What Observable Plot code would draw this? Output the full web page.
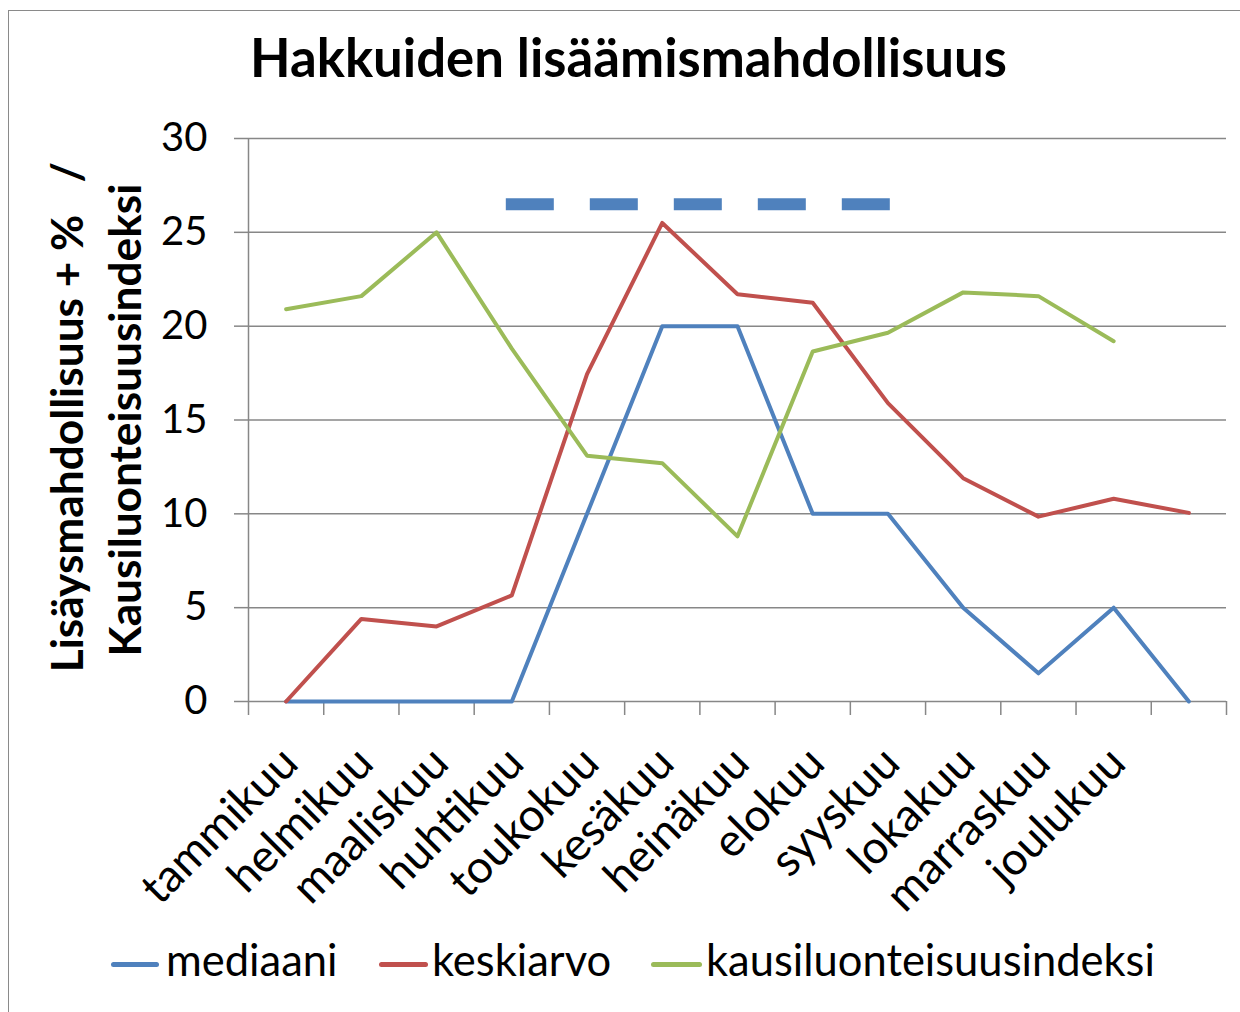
<!DOCTYPE html>
<html>
<head>
<meta charset="utf-8">
<script src="https://cdn.jsdelivr.net/npm/d3@7"></script>
<script src="https://cdn.jsdelivr.net/npm/@observablehq/plot@0.6"></script>
<style>
  html, body { margin: 0; padding: 0; background: #fff; }
  #wrap { position: relative; width: 1240px; height: 1012px; overflow: hidden; font-family: Lato, sans-serif; color: #000; }
  #frame { position: absolute; left: 8px; top: 10px; width: 1300px; height: 1100px; border-left: 1.5px solid #8a8a8a; border-top: 1.5px solid #8a8a8a; box-sizing: border-box; }
  #wrap svg { position: absolute; left: 0; top: 112px; }
  .t { position: absolute; line-height: 1; white-space: pre; font-family: Lato, sans-serif; }
  .sw { position: absolute; height: 5px; border-radius: 2.5px; }
</style>
</head>
<body>
<div id="wrap"><div id="frame"></div></div>
<script>
// ---- data ----
const months = ["tammikuu","helmikuu","maaliskuu","huhtikuu","toukokuu","kesäkuu","heinäkuu","elokuu","syyskuu","lokakuu","marraskuu","joulukuu",""];
const mediaani = [0, 0, 0, 0, 10, 20, 20, 10, 10, 5, 1.5, 5, 0];
const keskiarvo = [0, 4.4, 4.0, 5.65, 17.45, 25.5, 21.7, 21.25, 15.9, 11.9, 9.85, 10.8, 10.05];
const kausiluonteisuusindeksi = [20.9, 21.6, 25.0, 18.8, 13.1, 12.7, 8.8, 18.65, 19.65, 21.8, 21.6, 19.2, null];
const katkoviiva = [null, null, null, 26.5, 26.5, 26.5, 26.5, 26.5, 26.5, null, null, null, null];
const yTicks = [0, 5, 10, 15, 20, 25, 30];
const titleText = "Hakkuiden lisäämismahdollisuus";
const yTitleLines = ["Lisäysmahdollisuus + %   /", "Kausiluonteisuusindeksi"];
const seriesNames = ["mediaani", "keskiarvo", "kausiluonteisuusindeksi"];
const seriesColors = ["#4F81BD", "#C0504D", "#9BBB59"];

// ---- helpers ----
const ctx = document.createElement("canvas").getContext("2d");
function measure(text, weight, size) { ctx.font = `${weight} ${size}px Lato`; return ctx.measureText(text).width; }
function fitSize(text, weight, target) { return 100 * target / measure(text, weight, 100); }
const wrap = document.getElementById("wrap");
function addText(text, weight, size, left, baseline) {
  const d = document.createElement("div");
  d.className = "t";
  d.textContent = text;
  d.style.fontWeight = weight;
  d.style.fontSize = size + "px";
  d.style.left = left + "px";
  d.style.top = (baseline - 0.887 * size) + "px";
  wrap.appendChild(d);
  return d;
}

const rows = arr => arr.map((v, i) => ({i, v}));
const boundaries = months.map((_, i) => i - 0.5).concat([months.length - 0.5]);
const labelRows = months.map((m, i) => ({i, m})).filter(d => d.m);
const xLabelSize = fitSize("tammikuu", 400, 199);

const H = 800;
const chart = Plot.plot({
  width: 1240,
  height: H,
  marginLeft: 248,
  marginRight: 14,
  marginTop: 26,
  marginBottom: H - 589,
  x: {type: "linear", domain: [-0.5, months.length - 0.5], axis: null},
  y: {domain: [0, 30], axis: null},
  style: {fontFamily: "Lato, sans-serif", fontSize: "40px", color: "black", background: "transparent", overflow: "visible"},
  marks: [
    Plot.gridY(yTicks, {stroke: "#878787", strokeOpacity: 1, strokeWidth: 1.5}),
    Plot.axisY(yTicks, {tickSize: 14, tickPadding: 27, stroke: "#878787", strokeWidth: 1.5, fill: "black", fontSize: 40, label: null}),
    Plot.ruleX([-0.5], {stroke: "#878787", strokeWidth: 1.5}),
    Plot.axisX(boundaries, {tickSize: 14, tickFormat: () => "", stroke: "#878787", strokeWidth: 1.5, label: null}),
    Plot.text(labelRows, {x: "i", text: "m", frameAnchor: "bottom", rotate: -45, textAnchor: "end", lineAnchor: "middle", dx: 4, dy: 54, fontSize: xLabelSize, fill: "black"}),
    Plot.line(rows(mediaani), {x: "i", y: "v", stroke: seriesColors[0], strokeWidth: 4}),
    Plot.line(rows(keskiarvo), {x: "i", y: "v", stroke: seriesColors[1], strokeWidth: 4}),
    Plot.line(rows(kausiluonteisuusindeksi), {x: "i", y: "v", stroke: seriesColors[2], strokeWidth: 4}),
    Plot.line(rows(katkoviiva), {x: "i", y: "v", stroke: "#4F81BD", strokeWidth: 12, strokeDasharray: "36,48", strokeLinecap: "square", strokeLinejoin: "miter"})
  ]
});
wrap.appendChild(chart);

// ---- title ----
const tSize = fitSize(titleText, 700, 757);
const tW = measure(titleText, 700, tSize);
addText(titleText, 700, tSize, 628.5 - tW / 2, 78);

// ---- y-axis title (rotated) ----
const ySize = fitSize(yTitleLines[1], 700, 473);
const yBaselines = [83, 142];
const yCenters = [417, 420];
yTitleLines.forEach((line, k) => {
  const w = measure(line, 700, ySize);
  const d = document.createElement("div");
  d.className = "t";
  d.textContent = line;
  d.style.fontWeight = 700;
  d.style.fontSize = ySize + "px";
  d.style.width = w + "px";
  d.style.height = ySize + "px";
  const cx = yBaselines[k] - 0.387 * ySize;
  d.style.left = (cx - w / 2) + "px";
  d.style.top = (yCenters[k] - ySize / 2) + "px";
  d.style.transform = "rotate(-90deg)";
  d.style.transformOrigin = "50% 50%";
  wrap.appendChild(d);
});

// ---- legend ----
const lSize = fitSize(seriesNames[2], 400, 449);
const legendSwatch = [[111, 48], [379, 49], [651, 51]];
const legendTextX = [166, 432, 706];
seriesNames.forEach((name, k) => {
  const s = document.createElement("div");
  s.className = "sw";
  s.style.background = seriesColors[k];
  s.style.left = legendSwatch[k][0] + "px";
  s.style.width = legendSwatch[k][1] + "px";
  s.style.top = (964 - 2.5) + "px";
  wrap.appendChild(s);
  addText(name, 400, lSize, legendTextX[k], 977);
});
</script>
</body>
</html>
